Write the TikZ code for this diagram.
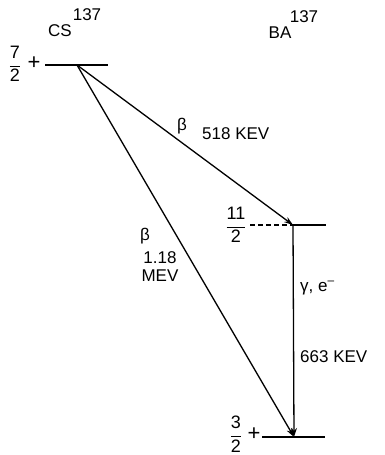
\documentclass[tikz,border=0pt]{standalone}
\usepackage{fontspec}
\setmainfont{Liberation Sans}
\usetikzlibrary{arrows.meta}
\newcommand\lvlfrac[2]{$\displaystyle\frac{\mbox{#1}}{\mbox{#2}}$}
\begin{document}
\begin{tikzpicture}[x=1pt,y=-1pt,
  lbl/.style={font=\fontsize{17}{17}\selectfont, inner sep=0pt},
  fracl/.style={font=\fontsize{18}{18}\selectfont, inner sep=0pt},
  plus/.style={font=\fontsize{22}{22}\selectfont, inner sep=0pt},
  levelline/.style={line width=1.2pt},
  dashlevel/.style={line width=1.2pt, dash pattern=on 5pt off 3pt},
  trans/.style={line width=1.3pt, -{Stealth[length=9pt,width=6pt]}}]
\useasboundingbox (0,0) rectangle (384,455);
% headers
\node[lbl] (cs) at (60,31) {CS};
\node[lbl] (cssup) at (87,15) {137};
\node[lbl] (ba) at (280,33) {BA};
\node[lbl] (basup) at (304,17) {137};
% top level
\node[fracl] (f72) at (15,64) {\lvlfrac{7}{2}};
\node[plus] (p72) at (34,63) {+};
\coordinate (t0) at (45,65);
\coordinate (t1) at (108,65);
\coordinate (src) at (77,65);
\draw[levelline] (t0) -- (t1);
% middle level
\node[fracl] (f112) at (236,225) {\lvlfrac{11}{2}};
\coordinate (m0) at (250,225);
\coordinate (m1) at (293,225);
\coordinate (m2) at (326,225);
\draw[dashlevel] (m0) -- (m1);
\draw[levelline] (m1) -- (m2);
% bottom level
\node[fracl] (f32) at (236,434) {\lvlfrac{3}{2}};
\node[plus] (p32) at (254,434) {+};
\coordinate (b0) at (262,437);
\coordinate (b1) at (294,437);
\coordinate (b2) at (325,437);
\draw[levelline] (b0) -- (b2);
% transitions
\draw[trans] (src) -- (m1);
\draw[trans] (src) -- (b1);
\draw[trans] (m1) -- (b1);
% labels
\node[lbl] (beta1) at (182,126) {β};
\node[lbl, anchor=west] (e1) at (202,134) {518 KEV};
\node[lbl] (beta2) at (145,236) {β};
\node[lbl] (e2a) at (160,258) {1.18};
\node[lbl] (e2b) at (160,276) {MEV};
\node[lbl, anchor=west] (ge) at (300,288) {γ, e\textsuperscript{–}};
\node[lbl, anchor=west] (e3) at (300,357) {663 KEV};
\end{tikzpicture}
\end{document}
